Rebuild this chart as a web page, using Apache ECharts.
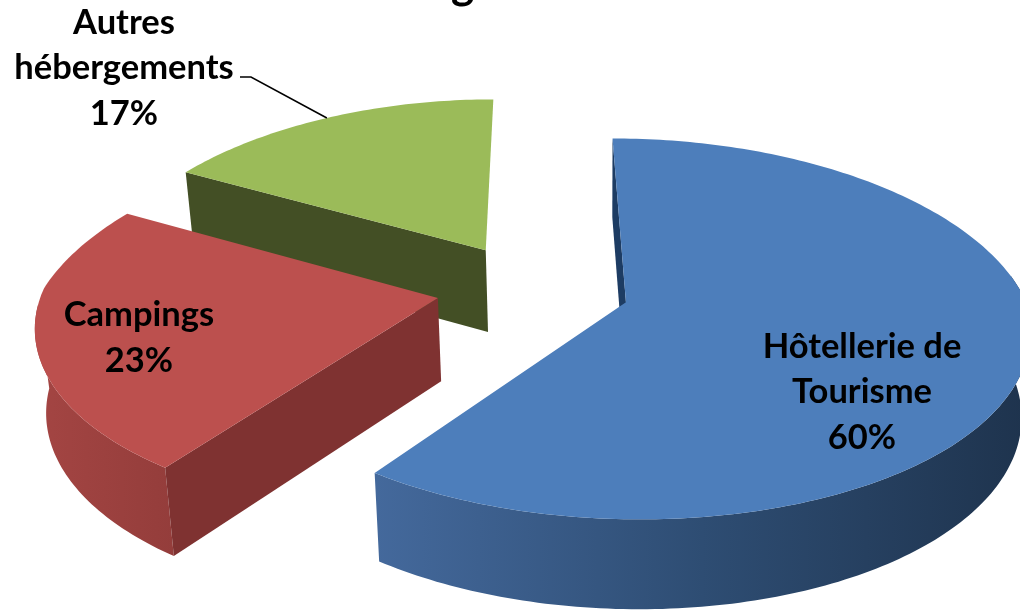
<!DOCTYPE html>
<html>
<head>
<meta charset="utf-8">
<style>html,body{margin:0;padding:0;background:#fff;overflow:hidden}#c{width:1020px;height:611px}</style>
<script src="https://cdn.jsdelivr.net/npm/echarts@6/dist/echarts.min.js"></script>
</head>
<body>
<div id="c"></div>
<script>
// Data
var categories = ['Hôtellerie de\nTourisme', 'Campings', 'Autres\nhébergements'];
var shares = [60, 23, 17];

// Colours per slice
var topColors = ['#4d7ebb', '#bc504e', '#9bbb59'];
var startFaceColors = ['#1d3c63', '#7f3231', '#434f25'];
var wallStops = [
  [[0, '#44699c'], [0.5, '#2e4d73'], [1, '#1e334d']],
  [[0, '#a44543'], [1, '#943d3b']],
  [[0, '#434f25'], [1, '#434f25']]
];
var labelCentres = [[862, 392], [139, 338], [124, 68]];
var paintOrder = [20, 10, 0];

// 3D view of the pie
var view = {cx: 533, cy: 288, f: 395, g: 185, kFront: 0.13, kBackY: 0.155, kBack: 0.17, kBackLeft: 0.2,
  explode: 0.245, drop: 83, dropSlope: 5.5, vanishX: 600, shrink: 0.98, wallFrom: 82, wallTo: 268};

function project(X, Y, lower) {
  var ky = Y > 0 ? view.kFront : view.kBackY;
  var kx = Y > 0 ? view.kFront : (X < 0 ? view.kBackLeft : view.kBack);
  var sy = 1 / (1 - ky * Y);
  var sx = 1 / (1 - kx * Y);
  var x = view.cx + view.f * X * sx;
  var y = view.cy + view.g * Y * sy;
  if (lower) {
    x = view.vanishX + (x - view.vanishX) * view.shrink;
    y = y + view.drop + view.dropSlope * Y * sy;
  }
  return [x, y];
}
function dir(deg) {
  var a = deg * Math.PI / 180;
  return [Math.sin(a), -Math.cos(a)];
}
function rimPoint(apex, deg, lower) {
  var d = dir(deg);
  return project(apex[0] + d[0], apex[1] + d[1], lower);
}
var total = shares.reduce(function (a, b) { return a + b; }, 0);

function renderSlice(params, api) {
  var i = params.dataIndex;
  var before = 0;
  for (var j = 0; j < i; j++) before += shares[j];
  var a0 = before / total * 360;
  var a1 = a0 + api.value(0) / total * 360;
  var mid = (a0 + a1) / 2;
  var m = dir(mid);
  var apex = [m[0] * view.explode, m[1] * view.explode];
  var base = paintOrder[i];
  var top = [project(apex[0], apex[1], false)];
  var rimTop = [], rimLow = [];
  var n = Math.ceil(a1 - a0);
  for (var t = 0; t <= n; t++) {
    var deg = a0 + (a1 - a0) * t / n;
    var p = rimPoint(apex, deg, false);
    top.push(p);
    // only the part of the rim that faces the viewer has a visible wall
    if (deg >= view.wallFrom && deg <= view.wallTo) {
      rimTop.push(p);
      rimLow.push(rimPoint(apex, deg, true));
    }
  }
  var children = [];
  if (rimTop.length) {
    children.push({
      type: 'polygon', z2: base + 1,
      shape: {points: rimTop.concat(rimLow.slice().reverse())},
      style: {fill: new echarts.graphic.LinearGradient(0, 0, 1, 0, wallStops[i].map(function (s) {
        return {offset: s[0], color: s[1]};
      }))}
    });
  }
  children.push({
    type: 'polygon', z2: base + 2,
    shape: {points: [
      project(apex[0], apex[1], false), rimPoint(apex, a0, false),
      rimPoint(apex, a0, true), project(apex[0], apex[1], true)
    ]},
    style: {fill: startFaceColors[i]}
  });
  children.push({
    type: 'polygon', z2: base + 3,
    shape: {points: top},
    style: {fill: topColors[i]}
  });
  var name = categories[i];
  var c = labelCentres[i];
  children.push({
    type: 'text', z2: 100,
    style: {
      text: name + '\n' + api.value(0) + '%',
      x: c[0], y: c[1], align: 'center', verticalAlign: 'middle',
      font: 'bold 34.5px Lato', lineHeight: 45.5, fill: '#000'
    }
  });
  if (i === 2) {
    var e = rimPoint(apex, mid, false);
    children.push({
      type: 'polyline', z2: 90,
      shape: {points: [[240, 77], [251, 77], e]},
      style: {stroke: '#000', lineWidth: 1.5, fill: null}
    });
  }
  return {type: 'group', children: children};
}

var chart = echarts.init(document.getElementById('c'), null, {renderer: 'canvas'});
chart.setOption({
  animation: false,
  backgroundColor: '#fff',
  title: {text: 'g', left: 446, top: -42, textStyle: {fontFamily: 'Lato', fontWeight: 'bold', fontSize: 44, color: '#000'}},
  series: [{
    type: 'custom',
    coordinateSystem: 'none',
    renderItem: renderSlice,
    data: shares.map(function (v, i) { return {name: categories[i], value: [v]}; })
  }]
});
</script>
</body>
</html>
